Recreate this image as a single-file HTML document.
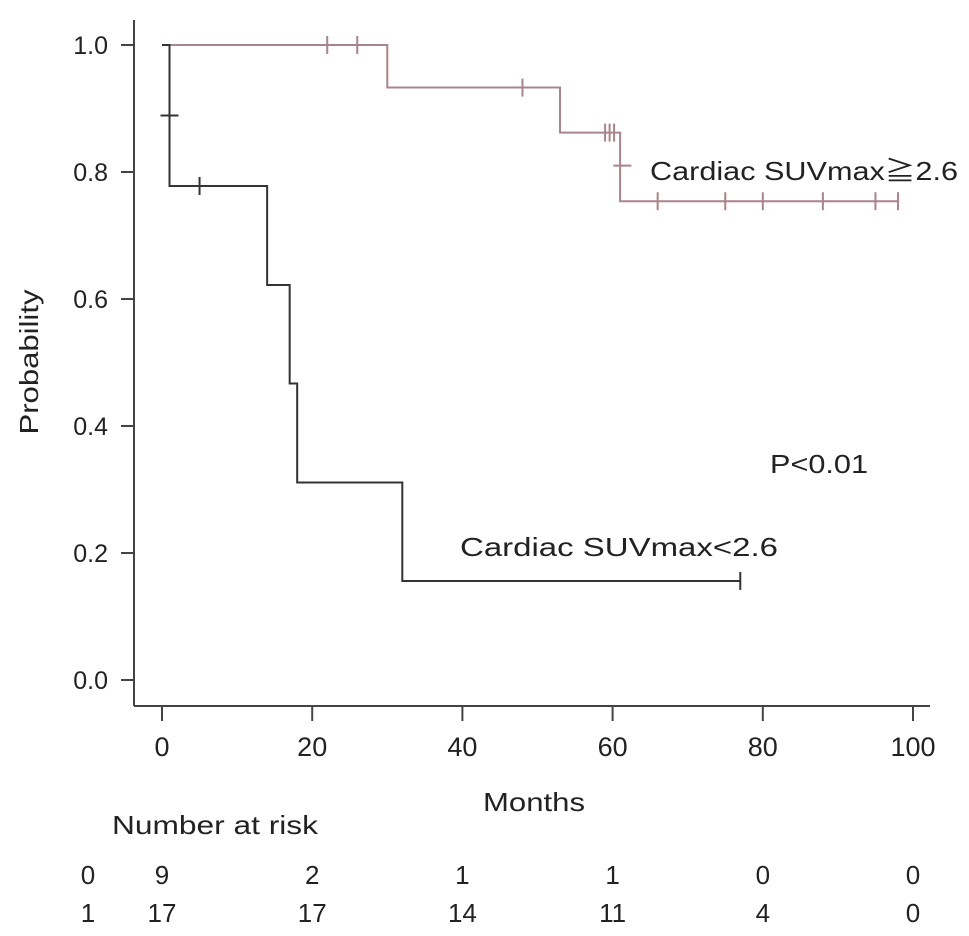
<!DOCTYPE html>
<html><head><meta charset="utf-8"><style>
body{margin:0;background:#fff;}
svg{display:block;font-family:"Liberation Sans","Noto Sans CJK JP",sans-serif;}
</style></head><body>
<svg id="chart" width="969" height="936" viewBox="0 0 969 936">
<g id="axes"></g><g id="plot"></g><g id="risk"></g>
<text x="650" y="180" font-size="26" fill="#222" textLength="308" lengthAdjust="spacingAndGlyphs">Cardiac SUVmax≧2.6</text>
<text x="770" y="473" font-size="26" fill="#222" textLength="98" lengthAdjust="spacingAndGlyphs">P&lt;0.01</text>
<text x="460" y="556" font-size="26" fill="#222" textLength="318" lengthAdjust="spacingAndGlyphs">Cardiac SUVmax&lt;2.6</text>
<text x="38" y="362" font-size="26" fill="#222" text-anchor="middle" textLength="145" lengthAdjust="spacingAndGlyphs" transform="rotate(-90 38 362)">Probability</text>
<text x="534" y="811" font-size="26" fill="#222" text-anchor="middle" textLength="102" lengthAdjust="spacingAndGlyphs">Months</text>
<text x="112" y="834" font-size="26" fill="#222" textLength="206" lengthAdjust="spacingAndGlyphs">Number at risk</text>
</svg>
<script>
const xTicks=[0,20,40,60,80,100];
const yTicks=[0,0.2,0.4,0.6,0.8,1.0];
const highTimes=[0,30,53,61,98];
const highSurv=[1,0.933,0.862,0.754,0.754];
const highCensorT=[22,26,48,59,59.6,60.2,66,75,80,88,95,98];
const lowTimes=[0,1,14,17,18,32,77];
const lowSurv=[1,0.778,0.622,0.467,0.311,0.156,0.156];
const lowCensorT=[5,77];
const riskGroups=["0","1"];
const riskLow=[9,2,1,1,0,0];
const riskHigh=[17,17,14,11,4,0];
const X=t=>162+t*7.51, Y=p=>680-p*635;
const NS="http://www.w3.org/2000/svg";
function mk(tag,attrs,parent){const e=document.createElementNS(NS,tag);for(const k in attrs)e.setAttribute(k,attrs[k]);parent.appendChild(e);return e;}
const axes=document.getElementById('axes'),plot=document.getElementById('plot'),risk=document.getElementById('risk');
let e=mk('line',{x1:134,y1:20,x2:134,y2:706,stroke:'#444','stroke-width':2},axes);


e=mk('line',{x1:134,y1:706,x2:930,y2:706,stroke:'#444','stroke-width':2},axes);


xTicks.forEach(t=>{
 let l=mk('line',{x1:X(t),y1:706,x2:X(t),y2:721,stroke:'#444','stroke-width':2},axes);
 
 
 let tx=mk('text',{x:X(t),y:756,'font-size':27,fill:'#222','text-anchor':'middle'},axes);tx.textContent=t;
 
 
});
yTicks.forEach(p=>{
 let l=mk('line',{x1:121,y1:Y(p),x2:134,y2:Y(p),stroke:'#444','stroke-width':2},axes);
 
 
 let tx=mk('text',{x:108,y:Y(p)+9,'font-size':25,fill:'#222','text-anchor':'end'},axes);tx.textContent=p.toFixed(1);
 
 
});
function stepPath(ts,ss){let d=`M${X(ts[0])},${Y(ss[0])}`;for(let i=1;i<ts.length;i++){d+=` H${X(ts[i])} V${Y(ss[i])}`;}return d;}
function survAt(ts,ss,t){let s=ss[0];for(let i=0;i<ts.length;i++){if(ts[i]<=t)s=ss[i];}return s;}
function drawSeries(ts,ss,cens,col,name){
 let p=mk('path',{d:stepPath(ts,ss),fill:'none',stroke:col,'stroke-width':2},plot);
 
 
 cens.forEach(t=>{const y=Y(survAt(ts,ss,t));
  let c=mk('line',{x1:X(t),y1:y-9,x2:X(t),y2:y+9,stroke:col,'stroke-width':2},plot);
  
  
 });
}
drawSeries(highTimes,highSurv,highCensorT,'#a8848c','high-suv');
drawSeries(lowTimes,lowSurv,lowCensorT,'#333','low-suv');
[[1,0.889,'#333'],[61.3,0.81,'#a8848c']].forEach(m=>{
 let c=mk('line',{x1:X(m[0])-9,y1:Y(m[1]),x2:X(m[0])+9,y2:Y(m[1]),stroke:m[2],'stroke-width':2},plot);
 
 
});
[[riskLow,884],[riskHigh,922]].forEach((r,gi)=>{
 let g=mk('text',{x:88,y:r[1],'font-size':26,fill:'#222','text-anchor':'middle'},risk);g.textContent=riskGroups[gi];
 
 
 r[0].forEach((v,i)=>{
  let tx=mk('text',{x:X(xTicks[i]),y:r[1],'font-size':26,fill:'#222','text-anchor':'middle'},risk);tx.textContent=v;
  
  
 });
});
</script>
</body></html>
